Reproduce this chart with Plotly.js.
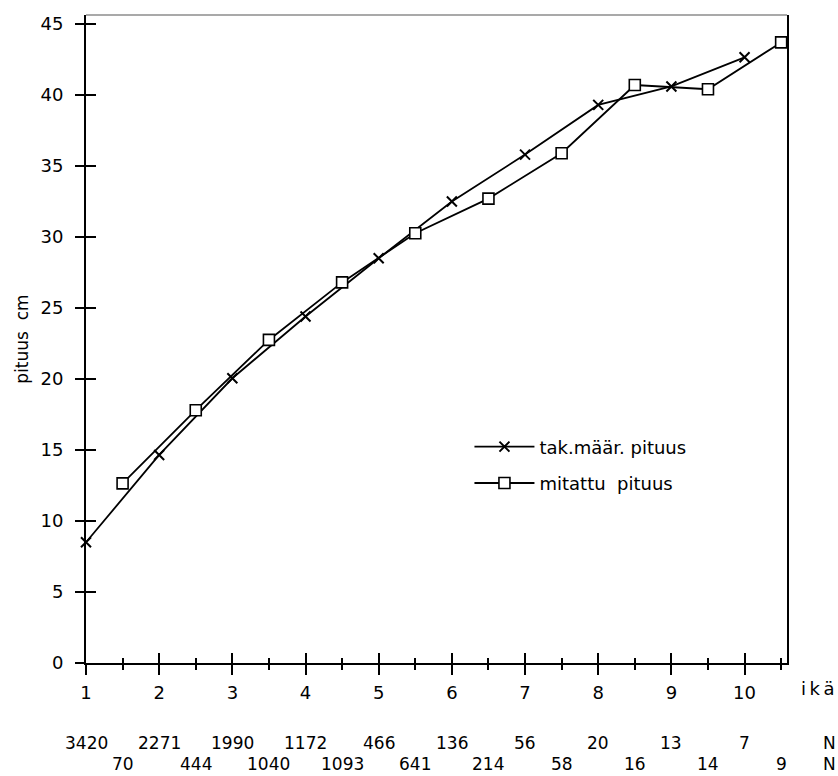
<!DOCTYPE html>
<html>
<head>
<meta charset="utf-8">
<script src="https://cdn.plot.ly/plotly-3.0.1.min.js"></script>
<style>html,body{margin:0;padding:0;background:#fff;}#chart{width:838px;height:776px;}</style>
</head>
<body>
<div id="chart"></div>
<script>
// ---- data ----
const ages = [1, 2, 3, 4, 5, 6, 7, 8, 9, 10];
const takMaarPituus = [8.5, 14.65, 20.05, 24.4, 28.5, 32.5, 35.8, 39.3, 40.6, 42.65];
const halfAges = [1.5, 2.5, 3.5, 4.5, 5.5, 6.5, 7.5, 8.5, 9.5, 10.5];
const mitattuPituus = [12.65, 17.8, 22.75, 26.8, 30.26, 32.7, 35.9, 40.7, 40.4, 43.7];
const nTak = [3420, 2271, 1990, 1172, 466, 136, 56, 20, 13, 7];
const nMit = [70, 444, 1040, 1093, 641, 214, 58, 16, 14, 9];
const xTickVals = [1, 2, 3, 4, 5, 6, 7, 8, 9, 10];
const yTickVals = [0, 5, 10, 15, 20, 25, 30, 35, 40, 45];
const seriesNames = ['tak.määr. pituus', 'mitattu  pituus'];

const FONT = 'DejaVu Sans, sans-serif';
const XR = [1, 10.58], YR = [0, 45.63];

const traces = [
  {
    x: ages, y: takMaarPituus, name: seriesNames[0], type: 'scatter', mode: 'lines+markers',
    line: {color: '#000', width: 1.8},
    marker: {symbol: 'x-thin', size: 10, color: '#000', line: {color: '#000', width: 2}},
    legendgroup: 'a', xaxis: 'x', yaxis: 'y', cliponaxis: false
  },
  {
    x: halfAges, y: mitattuPituus, name: seriesNames[1], type: 'scatter', mode: 'lines+markers',
    line: {color: '#000', width: 1.8},
    marker: {symbol: 'square', size: 11, color: '#fff', line: {color: '#000', width: 1.6}},
    legendgroup: 'b', xaxis: 'x2', yaxis: 'y2', cliponaxis: false
  }
];

const annFont = {family: FONT, size: 17, color: '#000'};
const ROW1 = -0.1235, ROW2 = -0.156;
const annotations = [];
ages.forEach((a, i) => annotations.push({
  x: a, xref: 'x', y: ROW1, yref: 'paper', text: String(nTak[i]), showarrow: false,
  xanchor: 'center', yanchor: 'middle', font: annFont, borderpad: 0
}));
halfAges.forEach((a, i) => annotations.push({
  x: a, xref: 'x', y: ROW2, yref: 'paper', text: String(nMit[i]), showarrow: false,
  xanchor: 'center', yanchor: 'middle', font: annFont, borderpad: 0
}));
[ROW1, ROW2].forEach(yy => annotations.push({
  x: 1.061, xref: 'paper', y: yy, yref: 'paper', text: 'N', showarrow: false,
  xanchor: 'center', yanchor: 'middle', font: annFont, borderpad: 0
}));
annotations.push({
  x: 1.0185, xref: 'paper', y: -0.04, yref: 'paper', text: 'i\u2009k\u2009ä', showarrow: false,
  xanchor: 'left', yanchor: 'middle', font: {family: FONT, size: 18, color: '#000'}, borderpad: 0
});

const tickCommon = {tickmode: 'array', tickwidth: 2, tickcolor: '#000', showgrid: false, zeroline: false, fixedrange: true};

const layout = {
  width: 838, height: 776,
  margin: {l: 86, r: 51, t: 15, b: 113},
  paper_bgcolor: '#fff', plot_bgcolor: 'rgba(0,0,0,0)',
  showlegend: true,
  legend: {
    x: 0.547, y: 0.362, xanchor: 'left', yanchor: 'top',
    bgcolor: 'rgba(0,0,0,0)', borderwidth: 0,
    font: {family: FONT, size: 18, color: '#000'},
    traceorder: 'grouped', tracegroupgap: 10, itemwidth: 60
  },
  xaxis: Object.assign({}, tickCommon, {
    range: XR, domain: [0, 1], anchor: 'y',
    showline: true, linecolor: '#000', linewidth: 2,
    tickvals: xTickVals, ticks: 'outside', ticklen: 10,
    ticklabelstandoff: 2,
    tickfont: {family: FONT, size: 18, color: '#000'},
    minor: {tick0: 1.5, dtick: 1, ticks: 'outside', ticklen: 5, tickwidth: 2, tickcolor: '#000', showgrid: false}
  }),
  xaxis2: Object.assign({}, tickCommon, {
    range: XR, domain: [0, 1], anchor: 'y2', side: 'bottom',
    showline: false, showticklabels: false,
    tickvals: xTickVals, ticks: 'inside', ticklen: 10,
    minor: {tick0: 1.5, dtick: 1, ticks: 'inside', ticklen: 5, tickwidth: 2, tickcolor: '#000', showgrid: false}
  }),
  yaxis: Object.assign({}, tickCommon, {
    range: YR, domain: [0, 1], anchor: 'x',
    showline: true, linecolor: '#000', linewidth: 2, mirror: true,
    tickvals: yTickVals, ticks: 'outside', ticklen: 9,
    ticklabelstandoff: 8,
    tickfont: {family: FONT, size: 18, color: '#000'},
    title: {text: 'pituus  cm', font: {family: FONT, size: 17, color: '#000'}, standoff: 8}
  }),
  yaxis2: Object.assign({}, tickCommon, {
    range: YR, domain: [0, 1], anchor: 'x2', side: 'left',
    showline: false, showticklabels: false,
    tickvals: yTickVals, ticks: 'inside', ticklen: 10
  }),
  shapes: [{
    type: 'line', xref: 'paper', yref: 'paper', x0: 0, x1: 1, y0: 1, y1: 1,
    line: {color: '#555', width: 1.2}
  }],
  annotations: annotations
};

Plotly.newPlot('chart', traces, layout, {displayModeBar: false, staticPlot: true});
</script>
</body>
</html>
